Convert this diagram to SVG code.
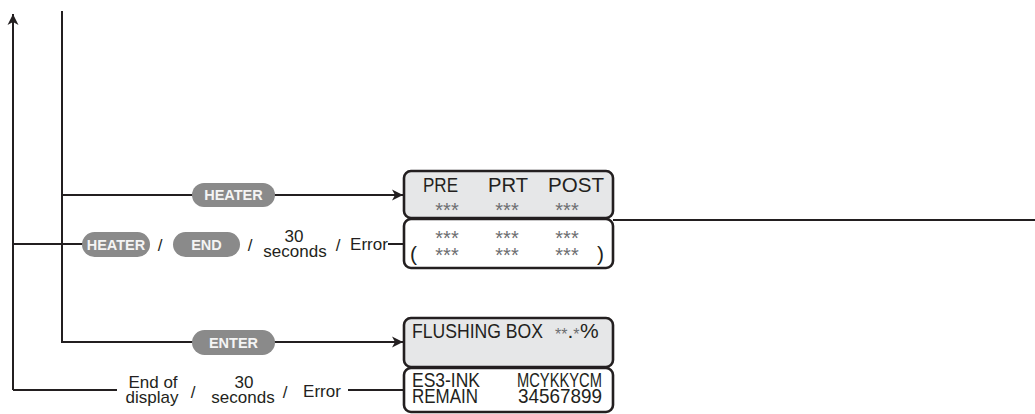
<svg xmlns="http://www.w3.org/2000/svg" width="1035" height="414" viewBox="0 0 1035 414">
<defs>
<style>
.ln{stroke:#231f20;stroke-width:2;fill:none}
.box{stroke:#231f20;stroke-width:2.6}
.g{fill:#e6e7e8}
.w{fill:#fff}
.pill{fill:#8a8a8a}
.pt{font-family:"Liberation Sans",Arial,sans-serif;font-weight:bold;font-size:14.5px;fill:#f4f4f4;text-anchor:middle}
.t{font-family:"Liberation Sans",Arial,sans-serif;font-size:17px;fill:#231f20}
.m{text-anchor:middle}
.d{font-family:"Liberation Sans",Arial,sans-serif;font-size:21px;fill:#231f20}
.a{font-family:"Liberation Sans",Arial,sans-serif;font-size:20px;fill:#6d6e71;text-anchor:middle}
.s{fill:#6d6e71;font-size:16px}
</style>
<marker id="ah" markerWidth="13" markerHeight="13" refX="11" refY="6.5" orient="auto" markerUnits="userSpaceOnUse">
<path d="M0,1 L11,6.5 L0,12 L3,6.5 Z" fill="#231f20"/>
</marker>
</defs>
<rect width="1035" height="414" fill="#fff"/>
<g id="connectors">
<path class="ln" d="M13,390 V14" marker-end="url(#ah)"/>
<path class="ln" d="M62,11 V342 H403" marker-end="url(#ah)"/>
<path class="ln" d="M62,195 H403" marker-end="url(#ah)"/>
<path class="ln" d="M13,244 H84"/>
<path class="ln" d="M388,244 H404"/>
<path class="ln" d="M613,220 H1035"/>
<path class="ln" d="M13,390 H117"/>
<path class="ln" d="M348,390 H404"/>
</g>
<g id="key-heater-1">
<rect class="pill" x="192" y="183" width="83" height="24" rx="12"/>
<text class="pt" x="233.5" y="200">HEATER</text>
</g>
<g id="key-heater-2">
<rect class="pill" x="82" y="232" width="68" height="25" rx="12.5"/>
<text class="pt" x="116" y="249.5" font-size="13.5">HEATER</text>
</g>
<g id="key-end">
<rect class="pill" x="173" y="232" width="67" height="25" rx="12.5"/>
<text class="pt" x="206.5" y="249.5">END</text>
</g>
<g id="label-row2">
<text class="t m" x="160" y="251">/</text>
<text class="t m" x="250" y="251">/</text>
<text class="t m" x="294" y="242">30</text>
<text class="t m" x="295" y="257">seconds</text>
<text class="t m" x="338" y="251">/</text>
<text class="t m" x="369" y="250">Error</text>
</g>
<g id="key-enter">
<rect class="pill" x="192" y="330" width="83" height="25" rx="12.5"/>
<text class="pt" x="233.5" y="347.5">ENTER</text>
</g>
<g id="label-row4">
<text class="t m" x="153" y="388">End of</text>
<text class="t m" x="152" y="403">display</text>
<text class="t m" x="193" y="398">/</text>
<text class="t m" x="244" y="388">30</text>
<text class="t m" x="243" y="403">seconds</text>
<text class="t m" x="285" y="398">/</text>
<text class="t m" x="322" y="397">Error</text>
</g>
<g id="display-heater">
<rect class="box g" x="404" y="171" width="209" height="47" rx="7"/>
<text class="d" x="423" y="192" textLength="35" lengthAdjust="spacingAndGlyphs">PRE</text>
<text class="d" x="488" y="192" textLength="40" lengthAdjust="spacingAndGlyphs">PRT</text>
<text class="d" x="548" y="192" textLength="56" lengthAdjust="spacingAndGlyphs">POST</text>
<text class="a" x="447" y="217">***</text>
<text class="a" x="507" y="217">***</text>
<text class="a" x="567" y="217">***</text>
</g>
<g id="display-heater-values">
<rect class="box w" x="404" y="219" width="209" height="49" rx="7"/>
<text class="a" x="447" y="244.5">***</text>
<text class="a" x="507" y="244.5">***</text>
<text class="a" x="567" y="244.5">***</text>
<text class="a" x="447" y="261.5">***</text>
<text class="a" x="507" y="261.5">***</text>
<text class="a" x="567" y="261.5">***</text>
<text class="d" x="410" y="261" font-size="22">(</text>
<text class="d" x="597" y="261" font-size="22">)</text>
</g>
<g id="display-flushing">
<rect class="box g" x="404" y="318" width="209" height="49" rx="7"/>
<text class="d" x="412" y="338" font-size="18" textLength="131" lengthAdjust="spacingAndGlyphs">FLUSHING BOX</text>
<text class="d" x="555" y="338" font-size="18.5"><tspan class="s" dy="2">**</tspan><tspan dy="-2">.</tspan><tspan class="s" dy="2">*</tspan><tspan dy="-2" dx="0.5">%</tspan></text>
</g>
<g id="display-ink">
<rect class="box w" x="404" y="368" width="209" height="44" rx="7"/>
<text class="d" x="412" y="387" font-size="18" textLength="68" lengthAdjust="spacingAndGlyphs">ES3-INK</text>
<text class="d" x="517" y="387" font-size="18" textLength="85" lengthAdjust="spacingAndGlyphs">MCYKKYCM</text>
<text class="d" x="412" y="403" font-size="18" textLength="66" lengthAdjust="spacingAndGlyphs">REMAIN</text>
<text class="d" x="518" y="403" font-size="18" textLength="84" lengthAdjust="spacingAndGlyphs">34567899</text>
</g>
</svg>
